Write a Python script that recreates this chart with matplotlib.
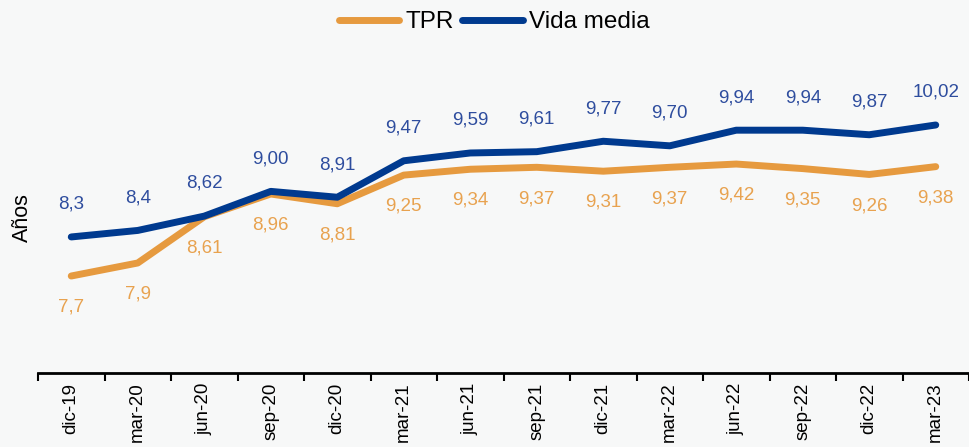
"""Evolución de la vida media y del TPR (años), dic-19 a mar-23."""

import matplotlib
matplotlib.use("Agg")
import matplotlib.pyplot as plt
import numpy as np
from matplotlib.ticker import FixedLocator, NullFormatter


PERIODS = ["dic-19", "mar-20", "jun-20", "sep-20", "dic-20", "mar-21", "jun-21",
           "sep-21", "dic-21", "mar-22", "jun-22", "sep-22", "dic-22", "mar-23"]
VIDA_MEDIA = [8.3, 8.4, 8.62, 9.00, 8.91, 9.47, 9.59, 9.61, 9.77, 9.70,
              9.94, 9.94, 9.87, 10.02]
TPR = [7.7, 7.9, 8.61, 8.96, 8.81, 9.25, 9.34, 9.37, 9.31, 9.37,
       9.42, 9.35, 9.26, 9.38]
# decimales mostrados en cada etiqueta
VIDA_MEDIA_DEC = [1, 1, 2, 2, 2, 2, 2, 2, 2, 2, 2, 2, 2, 2]
TPR_DEC = [1, 1, 2, 2, 2, 2, 2, 2, 2, 2, 2, 2, 2, 2]

ORANGE = "#E69A3F"
BLUE = "#003A8F"
BLUE_TEXT = "#2E4D9E"
ORANGE_TEXT = "#E8A24F"
BG = "#F7F8F8"


def fmt_es(value: float, decimals: int) -> str:
    return f"{value:.{decimals}f}".replace(".", ",")


def main() -> None:
    plt.rcParams["font.family"] = ["Liberation Sans", "DejaVu Sans"]

    fig = plt.figure(figsize=(9.69, 4.47), dpi=100, facecolor=BG)
    ax = fig.add_axes([38 / 969, 74 / 447, 931 / 969, 373 / 447])
    ax.set_facecolor("none")

    x = np.arange(len(PERIODS))
    ax.plot(x, TPR, color=ORANGE, lw=5, solid_capstyle="round",
            solid_joinstyle="round", label="TPR")
    ax.plot(x, VIDA_MEDIA, color=BLUE, lw=5, solid_capstyle="round",
            solid_joinstyle="round", label="Vida media")

    for xi, v, d in zip(x, VIDA_MEDIA, VIDA_MEDIA_DEC):
        ax.annotate(fmt_es(v, d), (xi, v), xytext=(0, 23.5), textcoords="offset points",
                    ha="center", va="center", fontsize=13.5, color=BLUE_TEXT)
    for xi, v, d in zip(x, TPR, TPR_DEC):
        ax.annotate(fmt_es(v, d), (xi, v), xytext=(0, -22.5), textcoords="offset points",
                    ha="center", va="center", fontsize=13.5, color=ORANGE_TEXT)

    ax.set_xlim(-0.5, len(PERIODS) - 0.5)
    ax.set_ylim(6.21, 11.94)

    # etiquetas centradas en cada periodo, marcas en los límites entre periodos
    ax.xaxis.set_major_locator(FixedLocator(np.arange(-0.5, len(PERIODS), 1.0)))
    ax.xaxis.set_major_formatter(NullFormatter())
    ax.xaxis.set_minor_locator(FixedLocator(x))
    ax.set_xticklabels(PERIODS, minor=True, rotation=90, fontsize=13.5)
    ax.tick_params(axis="x", which="major", length=6, width=1.5, color="black",
                   direction="out")
    ax.tick_params(axis="x", which="minor", length=0, pad=7)
    ax.set_yticks([])

    for side in ("top", "right", "left"):
        ax.spines[side].set_visible(False)
    ax.spines["bottom"].set_linewidth(2)

    fig.text(22 / 969, 1 - 218 / 447, "Años", rotation=90, ha="center", va="center",
             fontsize=15.5)

    fig.legend(loc="center", bbox_to_anchor=(494 / 969, 1 - 22 / 447), ncol=2,
               frameon=False, fontsize=17.5, handlelength=2.5, handletextpad=0.25,
               columnspacing=0.33)

    fig.savefig("out.png", dpi=100, facecolor=BG)


if __name__ == "__main__":
    main()
